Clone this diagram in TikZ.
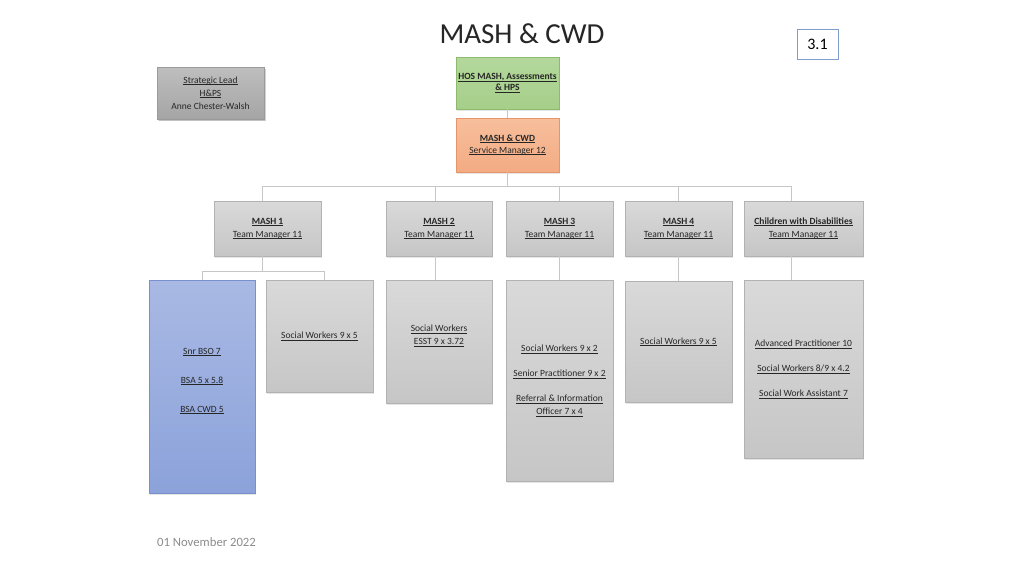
\documentclass[tikz,border=0pt]{standalone}
\usepackage{fontspec}
\setmainfont{Carlito}
\usetikzlibrary{calc,shadows}
\definecolor{graytop}{HTML}{D9D9D9}
\definecolor{graybot}{HTML}{C6C6C6}
\definecolor{boxline}{HTML}{B2B2B2}
\definecolor{leadtop}{HTML}{BEBEBE}
\definecolor{leadbot}{HTML}{A5A5A5}
\definecolor{leadline}{HTML}{9A9A9A}
\definecolor{greentop}{HTML}{B4D89C}
\definecolor{greenbot}{HTML}{A6CF8A}
\definecolor{greenline}{HTML}{8CBB6D}
\definecolor{orangetop}{HTML}{F7BF9C}
\definecolor{orangebot}{HTML}{F3AB83}
\definecolor{orangeline}{HTML}{E6956A}
\definecolor{bluetop}{HTML}{A9B9E4}
\definecolor{bluebot}{HTML}{8BA2DA}
\definecolor{blueline}{HTML}{7891CE}
\definecolor{linkgray}{HTML}{C6C6C6}
\definecolor{textdark}{HTML}{262626}
\definecolor{numblue}{HTML}{7F9DCB}
\definecolor{dategray}{HTML}{8C8C8C}
\newlength\ulwd
\newcommand{\ulx}[1]{\settowidth{\ulwd}{#1}\rlap{\rule[-1.3pt]{\ulwd}{0.45pt}}#1}

\begin{document}
\begin{tikzpicture}[x=1pt,y=-1pt,
  box/.style={draw=boxline,top color=graytop,bottom color=graybot,inner sep=0pt,align=center,text=textdark,
    font=\fontsize{9.5}{13}\selectfont,drop shadow={opacity=0.2,shadow xshift=1pt,shadow yshift=-1.5pt}},
  teambox/.style={box,minimum width=107pt,minimum height=55pt},
  link/.style={draw=linkgray,line width=0.8pt}]
\fill[white] (0,0) rectangle (1024,576);
\useasboundingbox (0,0) rectangle (1024,576);

\node[font=\fontsize{29}{34}\selectfont,text=textdark] (title) at (522,34) {MASH \& CWD};
\node[draw=numblue,line width=0.8pt,minimum width=41pt,minimum height=30pt,inner sep=0pt,
  font=\fontsize{16}{19}\selectfont,text=black] (num) at (817.5,44) {3.1};

\node[box,top color=leadtop,bottom color=leadbot,draw=leadline,minimum width=107pt,minimum height=52pt,
  drop shadow={opacity=0.35,shadow xshift=1.5pt,shadow yshift=-2pt}] (lead) at (210.5,93)
  {\ulx{Strategic Lead}\\\ulx{H\&PS}\\Anne Chester-Walsh};
\node[box,top color=greentop,bottom color=greenbot,draw=greenline,minimum width=103pt,minimum height=52pt,
  font=\bfseries\fontsize{9.5}{11}\selectfont] (hos) at (507.5,83)
  {\ulx{HOS MASH, Assessments}\\\ulx{\& HPS}};
\node[box,top color=orangetop,bottom color=orangebot,draw=orangeline,minimum width=103pt,minimum height=54pt,
  font=\fontsize{9.5}{12}\selectfont] (sm) at (507.5,145)
  {\textbf{\ulx{MASH \& CWD}}\\\ulx{Service Manager 12}};

\node[teambox] (m1) at (267.5,228.5) {\textbf{\ulx{MASH 1}}\\\ulx{Team Manager 11}};
\node[teambox,minimum width=106pt] (m2) at (439,228.5) {\textbf{\ulx{MASH 2}}\\\ulx{Team Manager 11}};
\node[teambox] (m3) at (559.5,228.5) {\textbf{\ulx{MASH 3}}\\\ulx{Team Manager 11}};
\node[teambox] (m4) at (678.5,228.5) {\textbf{\ulx{MASH 4}}\\\ulx{Team Manager 11}};
\node[teambox,minimum width=119pt] (cwd) at (803.5,228.5) {\textbf{\ulx{Children with Disabilities}}\\\ulx{Team Manager 11}};

\node[box,top color=bluetop,bottom color=bluebot,draw=blueline,minimum width=106pt,minimum height=213pt] (bso) at (202,386.5)
  {\ulx{Snr BSO 7}\\[16pt]\ulx{BSA 5 x 5.8}\\[16pt]\ulx{BSA CWD 5}\\ \mbox{}};
\node[box,minimum width=107pt,minimum height=112pt] (sw1) at (319.5,336) {\ulx{Social Workers 9 x 5}};
\node[box,minimum width=106pt,minimum height=123pt] (esst) at (439,341.5) {\ulx{Social Workers}\\\ulx{ESST 9 x 3.72}\\ \mbox{}};
\node[box,minimum width=107pt,minimum height=201pt] (sw3) at (559.5,380.5)
  {\ulx{Social Workers 9 x 2}\\[12pt]\ulx{Senior Practitioner 9 x 2}\\[12pt]\ulx{Referral \& Information}\\\ulx{Officer 7 x 4}};
\node[box,minimum width=107pt,minimum height=121pt] (sw4) at (678.5,341.5) {\ulx{Social Workers 9 x 5}};
\node[box,minimum width=119pt,minimum height=178pt] (swc) at (803.5,369)
  {\ulx{Advanced Practitioner 10}\\[12pt]\ulx{Social Workers 8/9 x 4.2}\\[12pt]\ulx{Social Work Assistant 7}};

\node[font=\fontsize{12.7}{15}\selectfont,text=dategray] (date) at (206.5,542) {01 November 2022};

\coordinate (bus) at (507.5,186);
\coordinate (split) at (262,271);
\draw[link] (hos) -- (sm);
\draw[link] (sm.south) -- (bus);
\draw[link] ([xshift=-5.5pt]m1.north) |- (bus);
\draw[link] ([xshift=-4pt]m2.north) |- (bus);
\draw[link] (m3.north) |- (bus);
\draw[link] (m4.north) |- (bus);
\draw[link] ([xshift=-12.5pt]cwd.north) |- (bus);
\draw[link] ([xshift=-5.5pt]m1.south) -- (split);
\draw[link] (bso.north) |- (split);
\draw[link] ([xshift=4.5pt]sw1.north) |- (split);
\draw[link] ([xshift=-4pt]m2.south) -- ([xshift=-4pt]esst.north);
\draw[link] (m3) -- (sw3);
\draw[link] (m4) -- (sw4);
\draw[link] ([xshift=-12.5pt]cwd.south) -- ([xshift=-12.5pt]swc.north);
\end{tikzpicture}
\end{document}
